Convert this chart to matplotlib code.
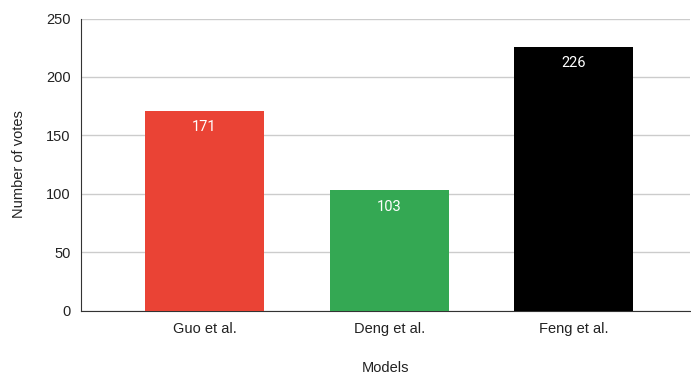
import matplotlib
matplotlib.use("Agg")
import matplotlib.pyplot as plt

models = ["Guo et al.", "Deng et al.", "Feng et al."]
votes = [171, 103, 226]
colors = ["#EA4335", "#34A853", "#000000"]
yticks = [0, 50, 100, 150, 200, 250]

W, H = 691, 378
fig = plt.figure(figsize=(W / 100, H / 100), dpi=100)
ax = fig.add_axes([80.5 / W, 1 - 310.5 / H, (690 - 80.5) / W, (310.5 - 18.5) / H])

x = range(len(models))
bars = ax.bar(x, votes, width=0.645, color=colors, zorder=3)

for rect, v in zip(bars, votes):
    ax.annotate(str(v), (rect.get_x() + rect.get_width() / 2, v),
                xytext=(0, -12), textcoords="offset points", ha="center", va="center",
                color="white", fontsize=10.5, family="Roboto", zorder=4)

ax.set_xlim(-0.672, 2.63)
ax.set_ylim(0, 250)
ax.set_yticks(yticks)
ax.set_yticklabels([str(t) for t in yticks], family="Liberation Sans", fontsize=10.5)
ax.set_xticks(list(x))
ax.set_xticklabels(models, family="Liberation Sans", fontsize=10.5)
ax.tick_params(axis="both", length=0, pad=7, colors="#222222")
ax.tick_params(axis="x", pad=8)

ax.grid(axis="y", color="#cccccc", linewidth=1, zorder=0)
ax.set_axisbelow(True)
for s in ["top", "right"]:
    ax.spines[s].set_visible(False)
ax.spines["left"].set_color("#333333")
ax.spines["bottom"].set_color("#333333")

ax.set_xlabel("Models", family="Liberation Sans", fontsize=10.5, color="#222222", labelpad=18)
ax.set_ylabel("Number of votes", family="Liberation Sans", fontsize=10.5, color="#222222", labelpad=14.5)

fig.savefig("out.png", dpi=100, facecolor="white")
